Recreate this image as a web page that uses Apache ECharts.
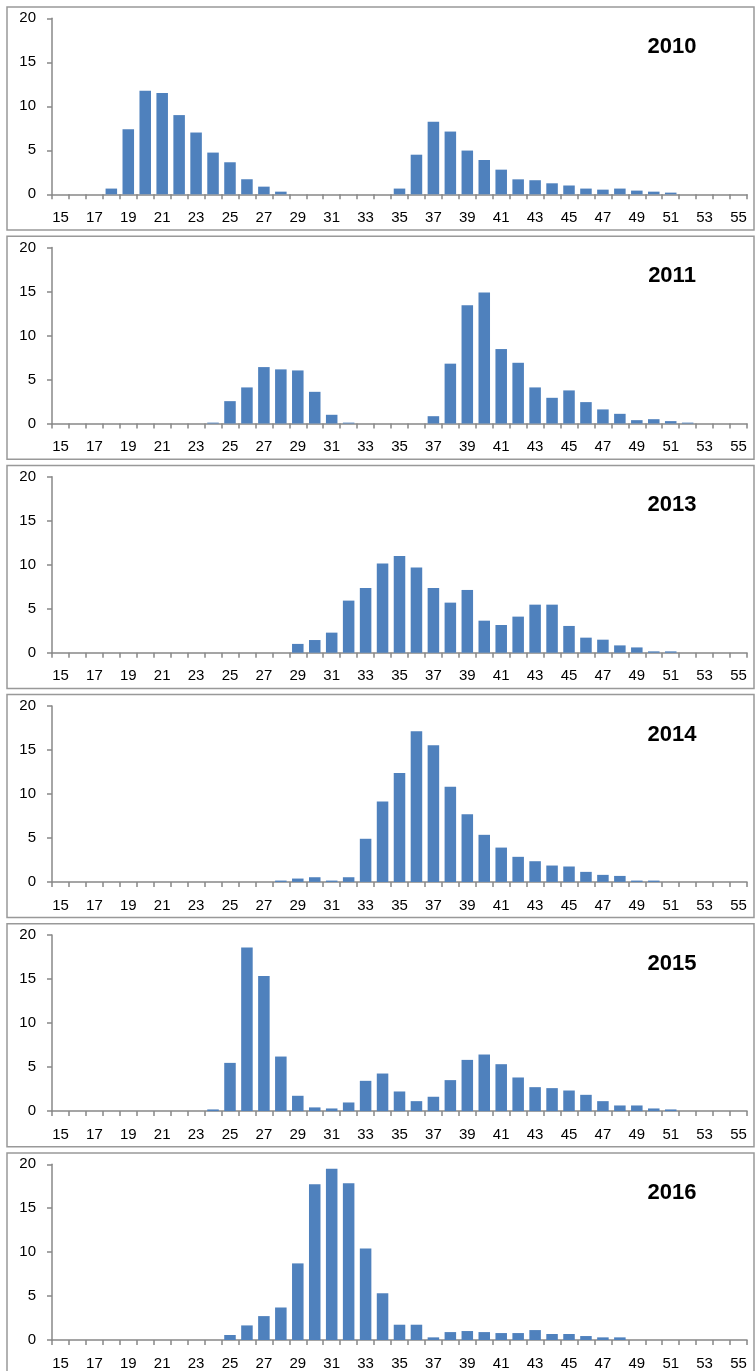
<!DOCTYPE html>
<html>
<head>
<meta charset="utf-8">
<script src="https://cdn.jsdelivr.net/npm/echarts@6/dist/echarts.min.js"></script>
<style>
html,body{margin:0;padding:0;background:#fff;}
#chart{width:756px;height:1371px;}
</style>
</head>
<body>
<div id="chart"></div>
<script>
var categories = [];
for (var c = 15; c <= 55; c++) categories.push(String(c));

var years = ['2010', '2011', '2013', '2014', '2015', '2016'];

var values2010 = [0,0,0,0.65,7.4,11.76,11.5,9.0,7.02,4.74,3.64,1.71,0.87,0.3,0,0,0,0,0,0,0.65,4.5,8.24,7.13,4.97,3.9,2.8,1.7,1.6,1.25,1.0,0.65,0.53,0.65,0.42,0.3,0.19,0,0,0,0];
var values2011 = [0,0,0,0,0,0,0,0,0,0.1,2.54,4.1,6.41,6.15,6.03,3.6,0.99,0.1,0,0,0,0,0.83,6.8,13.43,14.88,8.46,6.9,4.1,2.92,3.76,2.43,1.6,1.1,0.38,0.49,0.27,0.1,0,0,0];
var values2013 = [0,0,0,0,0,0,0,0,0,0,0,0,0,0,1.0,1.44,2.28,5.92,7.36,10.13,11.0,9.68,7.36,5.69,7.13,3.64,3.15,4.1,5.46,5.46,3.04,1.71,1.48,0.83,0.6,0.15,0.15,0,0,0,0];
var values2014 = [0,0,0,0,0,0,0,0,0,0,0,0,0,0.15,0.38,0.53,0.15,0.53,4.9,9.15,12.37,17.12,15.52,10.82,7.7,5.35,3.9,2.85,2.35,1.86,1.75,1.14,0.8,0.68,0.15,0.15,0,0,0,0,0];
var values2015 = [0,0,0,0,0,0,0,0,0,0.19,5.48,18.6,15.35,6.2,1.74,0.42,0.3,0.98,3.44,4.27,2.23,1.13,1.63,3.52,5.82,6.43,5.33,3.82,2.72,2.61,2.34,1.85,1.13,0.64,0.64,0.3,0.19,0,0,0,0];
var values2016 = [0,0,0,0,0,0,0,0,0,0,0.57,1.66,2.72,3.7,8.72,17.74,19.5,17.85,10.42,5.32,1.74,1.74,0.3,0.9,1.02,0.9,0.79,0.79,1.13,0.68,0.68,0.45,0.3,0.3,0,0,0,0,0,0,0];

var seriesValues = [values2010, values2011, values2013, values2014, values2015, values2016];
var yTicks = { min: 0, max: 20, interval: 5 };

(function () {
  var FONT = '"Liberation Sans", Arial, sans-serif';
  var STEP = 229.2;
  var grids = [], xAxes = [], yAxes = [], series = [], graphics = [];

  for (var i = 0; i < 6; i++) {
    var gridTop = 18.3 + STEP * i;
    grids.push({ left: 52, width: 695, top: gridTop, height: 176 });
    xAxes.push({
      type: 'category', gridIndex: i, data: categories,
      axisLine: { show: true, lineStyle: { color: '#888888', width: 1.5 } },
      axisTick: { show: true, interval: 0, length: 5, lineStyle: { color: '#888888', width: 1.5 } },
      axisLabel: { interval: 1, fontSize: 15, fontFamily: FONT, color: '#000', margin: 16 },
      splitLine: { show: false }
    });
    yAxes.push({
      type: 'value', gridIndex: i, min: yTicks.min, max: yTicks.max, interval: yTicks.interval,
      axisLine: { show: true, lineStyle: { color: '#888888', width: 1.5 } },
      axisTick: { show: true, length: 5, lineStyle: { color: '#888888', width: 1.5 } },
      axisLabel: { fontSize: 15, fontFamily: FONT, color: '#000', margin: 16 },
      splitLine: { show: false }
    });
    series.push({
      type: 'bar', xAxisIndex: i, yAxisIndex: i, data: seriesValues[i],
      barCategoryGap: '32%',
      itemStyle: { color: '#4F81BD' },
      silent: true
    });
    graphics.push({
      type: 'rect', silent: true, z: -1,
      shape: { x: 7, y: 7 + STEP * i, width: 747, height: 223 },
      style: { fill: 'none', stroke: '#999999', lineWidth: 1.5 }
    });
    graphics.push({
      type: 'text', silent: true,
      x: 672, y: 47 + STEP * i,
      style: { text: years[i], font: 'bold 22px ' + FONT, fill: '#000', textAlign: 'center', textVerticalAlign: 'middle' }
    });
  }

  var chart = echarts.init(document.getElementById('chart'), null, { renderer: 'canvas' });
  chart.setOption({
    animation: false,
    backgroundColor: '#ffffff',
    grid: grids,
    xAxis: xAxes,
    yAxis: yAxes,
    series: series,
    graphic: { elements: graphics }
  });
})();
</script>
</body>
</html>
